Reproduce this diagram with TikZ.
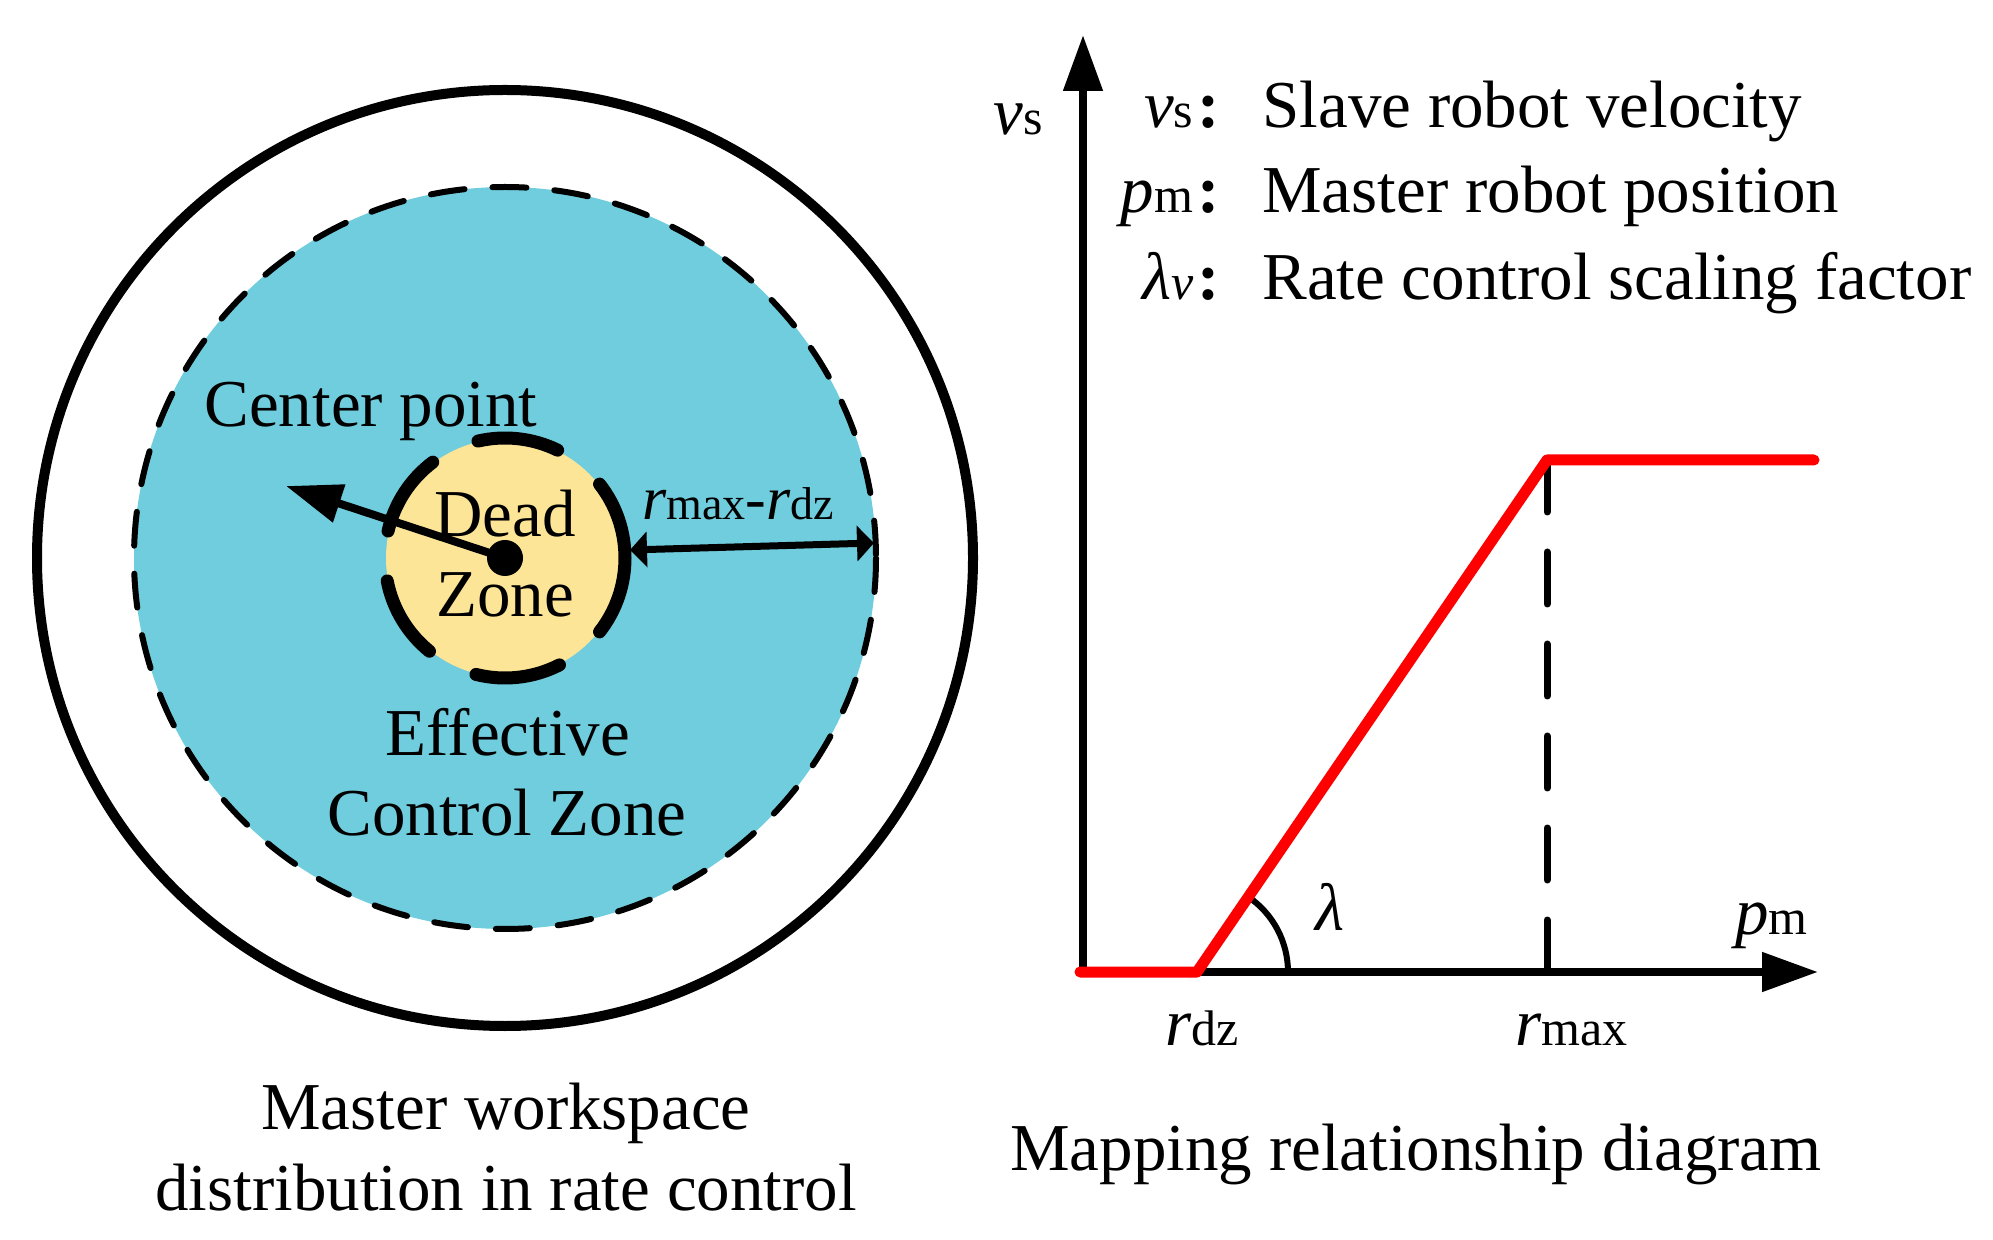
\documentclass[tikz,border=0pt]{standalone}
\usepackage{fontspec}
\setmainfont{Liberation Serif}
\usetikzlibrary{arrows.meta}
\definecolor{eczcol}{RGB}{111,205,221}
\definecolor{dzcol}{RGB}{253,229,151}
\definecolor{redcol}{RGB}{255,0,0}
\newcommand\fsM{\fontsize{33.5}{40}\selectfont}
\newcommand\fsS{\fontsize{25}{30}\selectfont}
\newcommand\fsL{\fontsize{31}{37}\selectfont}
\newcommand\fsLs{\fontsize{23}{28}\selectfont}
\newcommand\keycolon{\kern2pt\textbf{:}}
\begin{document}
\begin{tikzpicture}[x=0.5pt,y=-0.5pt,
  lbl/.style={inner sep=0pt, font=\fsM, anchor=base},
  lblw/.style={lbl, anchor=base west},
  lble/.style={lbl, anchor=base east},
  bigtip/.style={-{Triangle[length=28pt,width=19pt]}},
  axisline/.style={line width=4pt, bigtip},
  dzarc/.style={line width=6.5pt, line cap=round},
  dimline/.style={line width=3.5pt, {Triangle[length=8.5pt,width=17.5pt]}-{Triangle[length=8.5pt,width=17.5pt]}},
  mapline/.style={line width=5.5pt, draw=redcol, line cap=round, line join=round},
  guide/.style={line width=3.5pt, line cap=round, dash pattern=on 26pt off 20pt},
  zoneedge/.style={line width=3pt, line cap=round, dash pattern=on 17pt off 14pt}
]
\path[use as bounding box] (0,0) rectangle (1993,1240);

% ---------- left panel ----------
\coordinate (C) at (505,558);
\draw[line width=5pt] (C) circle[radius=468];
\fill[eczcol] (C) circle[radius=371];
\draw[zoneedge] (C) circle[radius=371];
\fill[dzcol] (C) circle[radius=119];
\foreach \a/\b in {64/103,127/167,191/231,256/297,-38/38}
  \draw[dzarc] ([shift={(-\a:120)}]C) arc[start angle=-\a, end angle=-\b, radius=120];

\node[lbl] (center) at (371,427) {Center point};
\node[lbl] (dead) at (505,537) {Dead};
\node[lbl] (zone) at (505,617) {Zone};
\node[lbl] (eff) at (508,755) {Effective};
\node[lbl] (ctrl) at (507,835) {Control Zone};

\coordinate (cptip) at (286,486);
\draw[line width=4pt, bigtip] (C) -- (cptip);
\fill (C) circle[radius=18];

\coordinate (dzedge) at (630,550);
\coordinate (ecedge) at (874,543);
\draw[dimline] (dzedge) -- (ecedge);
\node[lbl, font=\fsL] (rdiff) at (738,520) {\textit{r}{\fsLs max}-\textit{r}{\fsLs dz}};

\node[lbl] (cap1) at (506,1129) {Master workspace};
\node[lbl] (cap2) at (506,1210) {distribution in rate control};

% ---------- right panel ----------
\coordinate (O) at (1083,972);
\coordinate (ytip) at (1083,35);
\coordinate (xtip) at (1818,972);
\coordinate (rdz) at (1197,972);
\coordinate (rmaxtop) at (1547,460);
\coordinate (rmaxbot) at (1547,972);
\coordinate (sat) at (1814,460);
\coordinate (start) at (1080,972);

\draw[guide] (rmaxbot) -- (1547,466);
\draw[line width=3pt, line cap=round] (1288,972) arc[start angle=0, end angle=-55.6, radius=91];
\draw[axisline] (O) -- (ytip);
\draw[axisline] (1080,972) -- (xtip);
\draw[mapline] (start) -- (rdz) -- (rmaxtop) -- (sat);

\node[lblw] (vsaxis) at (993,135) {\textit{v}{\fsS s}};
\node[lblw] (pmaxis) at (1735,934) {\textit{p}{\fsS m}};
\node[lbl] (lam) at (1330,930) {\textit{λ}};
\node[lblw] (rdzlbl) at (1165,1045) {\textit{r}{\fsS dz}};
\node[lblw] (rmaxlbl) at (1515,1045) {\textit{r}{\fsS max}};

\node[lble] (k1) at (1220,128) {\textit{v}{\fsS s}\keycolon};
\node[lble] (k2) at (1220,213) {\textit{p}{\fsS m}\keycolon};
\node[lble] (k3) at (1220,300) {\textit{λ}{\fsS\itshape v}\keycolon};
\node[lblw] (t1) at (1262,128) {Slave robot velocity};
\node[lblw] (t2) at (1262,213) {Master robot position};
\node[lblw] (t3) at (1262,300) {Rate control scaling factor};

\node[lbl] (cap3) at (1416,1170) {Mapping relationship diagram};
\end{tikzpicture}
\end{document}
